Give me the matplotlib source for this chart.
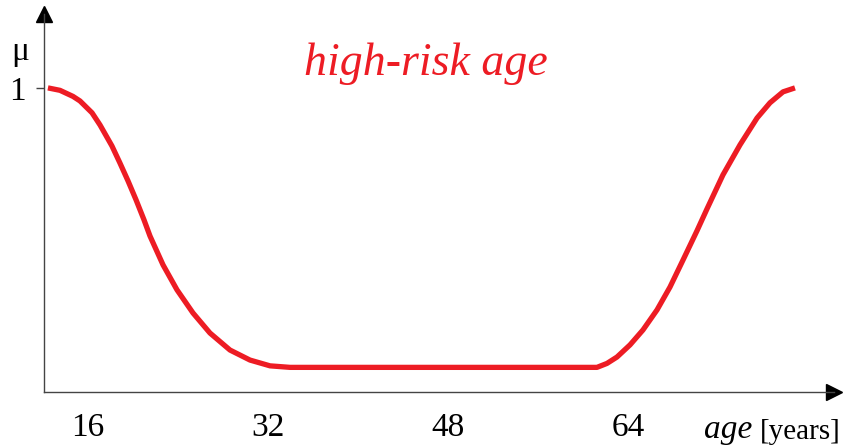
import matplotlib
matplotlib.use("Agg")
import matplotlib.pyplot as plt

# puntos (edad, grado de pertenencia)
age = [12.44, 13.51, 14.67, 15.29, 16.36, 17.07, 18.13, 18.84, 19.56, 20.27,
       20.98, 21.51, 22.67, 23.91, 25.33, 26.84, 28.62, 30.40, 32.18, 33.96,
       40.0, 48.0, 56.0, 61.24, 62.13, 63.02, 64.18, 65.33, 66.58, 67.73,
       68.89, 70.13, 71.02, 72.44, 73.96, 75.47, 76.62, 77.78, 78.84]
mu = [1.0, 0.992, 0.972, 0.957, 0.918, 0.878, 0.809, 0.753, 0.694, 0.632,
      0.566, 0.513, 0.418, 0.336, 0.260, 0.194, 0.138, 0.105, 0.086, 0.081,
      0.081, 0.081, 0.081, 0.081, 0.094, 0.115, 0.155, 0.204, 0.270, 0.345,
      0.434, 0.530, 0.602, 0.714, 0.813, 0.901, 0.951, 0.987, 1.0]

x_ticks = [16, 32, 48, 64]
y_ticks = [1]

red = "#ED1C24"
axis_col = "#444444"

plt.rcParams["font.family"] = ["Liberation Serif", "DejaVu Serif"]

W, H = 846, 445
fig = plt.figure(figsize=(W / 100, H / 100), dpi=100)
# ejes: x de 44 a 834 px, y de 392 a 14 px
ax = fig.add_axes([44 / W, (H - 392) / H, (834 - 44) / W, (392 - 14) / H])
ax.set_xlim(12.09, 82.31)
ax.set_ylim(0, 1.243)

ax.plot(age, mu, color=red, lw=3.8, solid_capstyle="butt",
        solid_joinstyle="round", clip_on=False)

for s in ["top", "right"]:
    ax.spines[s].set_visible(False)
for s in ["left", "bottom"]:
    ax.spines[s].set_color(axis_col)
    ax.spines[s].set_linewidth(1.0)

# flechas de los ejes
ax.plot(1, 0, ">", color="black", ms=11, transform=ax.transAxes, clip_on=False)
ax.plot(0, 1, "^", color="black", ms=11, transform=ax.transAxes, clip_on=False)

ax.set_xticks(x_ticks)
ax.set_xticklabels([str(t) for t in x_ticks], fontsize=24)
ax.tick_params(axis="x", length=0, pad=15)
ax.set_yticks(y_ticks)
ax.set_yticklabels(["1"], fontsize=24)
ax.tick_params(axis="y", length=5.5, width=1, color=axis_col, pad=8)

ax.text(46.0, 1.043, "high-risk age", color=red, fontsize=33, style="italic",
        ha="center", va="baseline")

fig.text(20 / W, 1 - 52 / H, "\u03bc", fontsize=24, ha="center", va="center")

years = fig.text(841 / W, 1 - 439 / H, "[years]", fontsize=21, ha="right",
                 va="baseline")
ax.annotate("age ", xy=(0, 0), xycoords=years, fontsize=24, style="italic",
            ha="right", va="bottom", annotation_clip=False)

fig.savefig("out.png", dpi=100)
